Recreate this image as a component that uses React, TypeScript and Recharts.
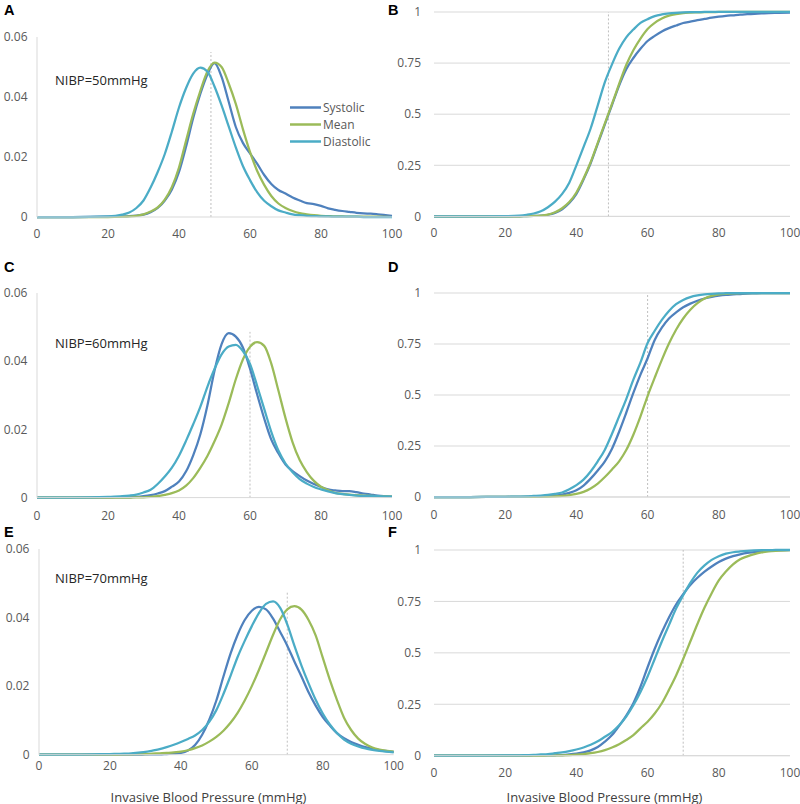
import React from 'react';
import { LineChart, Line, XAxis, YAxis, CartesianGrid, ReferenceLine } from 'recharts';

// invasive blood pressure grid (mmHg)
const bp = [0, 10, 20, 24, 26, 28, 30, 32, 34, 36, 38, 40, 42, 44, 46, 48, 50, 52, 54, 56, 58, 60, 62, 64, 66, 68, 70, 72, 74, 76, 78, 80, 82, 84, 86, 88, 90, 92, 94, 96, 100];

// NIBP = 50 mmHg, density
const sysA = [0, 0, 0.0001, 0.0002, 0.0003, 0.0005, 0.0008, 0.0016, 0.003, 0.0055, 0.0092, 0.015, 0.0235, 0.033, 0.041, 0.0475, 0.0513, 0.0467, 0.0384, 0.03, 0.0247, 0.0212, 0.0178, 0.014, 0.011, 0.009, 0.0078, 0.0065, 0.0055, 0.0046, 0.0043, 0.0037, 0.0029, 0.0024, 0.002, 0.0017, 0.0014, 0.0012, 0.0011, 0.0009, 0.0004];
const meanA = [0, 0, 0, 0.0001, 0.0002, 0.0004, 0.0009, 0.0018, 0.0032, 0.0058, 0.01, 0.0165, 0.0255, 0.0344, 0.042, 0.0485, 0.0515, 0.05, 0.0445, 0.0377, 0.0293, 0.0217, 0.0154, 0.0107, 0.007, 0.0045, 0.003, 0.002, 0.0013, 0.0009, 0.0006, 0.0004, 0.0003, 0.0002, 0.0002, 0.0001, 0.0001, 0.0001, 0.0001, 0.0001, 0];
const diaA = [0, 0, 0.0002, 0.0008, 0.0015, 0.003, 0.0055, 0.0098, 0.015, 0.021, 0.0285, 0.0365, 0.043, 0.0478, 0.0498, 0.0485, 0.0435, 0.0372, 0.0302, 0.0232, 0.017, 0.0123, 0.0083, 0.0054, 0.0036, 0.0022, 0.0015, 0.0009, 0.0006, 0.0004, 0.0003, 0.0002, 0.0002, 0.0001, 0.0001, 0.0001, 0.0001, 0, 0, 0, 0];

// NIBP = 50 mmHg, cumulative
const sysB = [0, 0, 0.0002, 0.0005, 0.001, 0.002, 0.004, 0.008, 0.017, 0.035, 0.065, 0.11, 0.18, 0.26, 0.355, 0.45, 0.545, 0.64, 0.72, 0.775, 0.82, 0.858, 0.883, 0.905, 0.921, 0.934, 0.946, 0.953, 0.96, 0.966, 0.972, 0.977, 0.981, 0.984, 0.987, 0.989, 0.991, 0.993, 0.995, 0.996, 0.997];
const meanB = [0, 0, 0.0002, 0.0005, 0.001, 0.002, 0.004, 0.009, 0.02, 0.04, 0.07, 0.117, 0.185, 0.265, 0.36, 0.455, 0.55, 0.648, 0.741, 0.813, 0.87, 0.917, 0.947, 0.968, 0.982, 0.99, 0.995, 0.997, 0.998, 0.999, 0.999, 1, 1, 1, 1, 1, 1, 1, 1, 1, 1];
const diaB = [0, 0, 0.001, 0.004, 0.008, 0.014, 0.025, 0.045, 0.072, 0.11, 0.165, 0.25, 0.339, 0.43, 0.543, 0.657, 0.744, 0.82, 0.876, 0.914, 0.947, 0.965, 0.98, 0.988, 0.993, 0.996, 0.998, 0.999, 0.999, 1, 1, 1, 1, 1, 1, 1, 1, 1, 1, 1, 1];

// NIBP = 60 mmHg, density
const sysC = [0, 0, 0, 0.0001, 0.0001, 0.0002, 0.0004, 0.0007, 0.0012, 0.0019, 0.0032, 0.0047, 0.0077, 0.0124, 0.0185, 0.027, 0.0372, 0.045, 0.0482, 0.0472, 0.044, 0.0378, 0.0303, 0.0232, 0.017, 0.013, 0.0097, 0.0078, 0.0063, 0.005, 0.004, 0.0031, 0.0024, 0.0021, 0.0019, 0.0019, 0.0016, 0.0012, 0.0009, 0.0006, 0.0003];
const meanC = [0, 0, 0, 0, 0, 0.0001, 0.0001, 0.0002, 0.0004, 0.0008, 0.0013, 0.0021, 0.0035, 0.0057, 0.0087, 0.0122, 0.0165, 0.0214, 0.0277, 0.0347, 0.0405, 0.0442, 0.0456, 0.0445, 0.0393, 0.0314, 0.0233, 0.0162, 0.011, 0.0075, 0.0049, 0.0032, 0.0022, 0.0014, 0.0011, 0.0009, 0.0007, 0.0006, 0.0005, 0.0004, 0.0003];
const diaC = [0, 0, 0.0002, 0.0004, 0.0006, 0.0009, 0.0015, 0.0023, 0.004, 0.0062, 0.0088, 0.0123, 0.0167, 0.0215, 0.0266, 0.0325, 0.0377, 0.042, 0.0443, 0.0448, 0.043, 0.0392, 0.0328, 0.026, 0.0193, 0.0138, 0.01, 0.0074, 0.0054, 0.0041, 0.0031, 0.0024, 0.0018, 0.0013, 0.001, 0.0008, 0.0006, 0.0005, 0.0005, 0.0004, 0.0003];

// NIBP = 60 mmHg, cumulative
const sysD = [0, 0, 0.0002, 0.0005, 0.001, 0.0015, 0.002, 0.004, 0.007, 0.012, 0.02, 0.033, 0.056, 0.09, 0.13, 0.175, 0.237, 0.32, 0.413, 0.51, 0.6, 0.68, 0.77, 0.83, 0.875, 0.905, 0.93, 0.948, 0.962, 0.973, 0.981, 0.987, 0.991, 0.993, 0.995, 0.997, 0.998, 0.999, 0.999, 1, 1];
const meanD = [0, 0, 0.0001, 0.0003, 0.0005, 0.001, 0.0015, 0.002, 0.003, 0.005, 0.009, 0.015, 0.025, 0.042, 0.066, 0.098, 0.135, 0.175, 0.23, 0.305, 0.395, 0.495, 0.585, 0.672, 0.752, 0.82, 0.875, 0.918, 0.95, 0.973, 0.986, 0.993, 0.996, 0.998, 0.999, 1, 1, 1, 1, 1, 1];
const diaD = [0, 0, 0.001, 0.002, 0.003, 0.005, 0.007, 0.01, 0.015, 0.022, 0.038, 0.058, 0.085, 0.125, 0.175, 0.232, 0.31, 0.395, 0.48, 0.575, 0.66, 0.755, 0.815, 0.868, 0.912, 0.945, 0.966, 0.98, 0.988, 0.993, 0.996, 0.998, 0.999, 1, 1, 1, 1, 1, 1, 1, 1];

// NIBP = 70 mmHg, density
const sysE = [0, 0, 0, 0, 0, 0, 0.0001, 0.0001, 0.0001, 0.0002, 0.0003, 0.0005, 0.0012, 0.0028, 0.0058, 0.0102, 0.0158, 0.0228, 0.0295, 0.035, 0.0393, 0.042, 0.0431, 0.0424, 0.0397, 0.0358, 0.0318, 0.0272, 0.0228, 0.0182, 0.0143, 0.011, 0.0085, 0.0063, 0.0048, 0.0037, 0.0029, 0.0022, 0.0017, 0.0013, 0.0008];
const meanE = [0, 0, 0, 0.0001, 0.0001, 0.0002, 0.0002, 0.0003, 0.0004, 0.0005, 0.0007, 0.0009, 0.0013, 0.0019, 0.0027, 0.0038, 0.0052, 0.007, 0.0093, 0.0122, 0.0158, 0.02, 0.0247, 0.0298, 0.035, 0.0395, 0.0424, 0.0433, 0.0423, 0.0393, 0.0348, 0.0283, 0.0218, 0.016, 0.0108, 0.0072, 0.0047, 0.0031, 0.0021, 0.0015, 0.0009];
const diaE = [0, 0, 0.0002, 0.0003, 0.0004, 0.0006, 0.0008, 0.0012, 0.0016, 0.0022, 0.0029, 0.0037, 0.0046, 0.0056, 0.0072, 0.0096, 0.013, 0.0177, 0.023, 0.0285, 0.0332, 0.0375, 0.0413, 0.044, 0.0447, 0.0428, 0.038, 0.0318, 0.026, 0.0208, 0.016, 0.012, 0.0088, 0.0063, 0.0044, 0.0032, 0.0024, 0.0018, 0.0014, 0.0011, 0.0007];

// NIBP = 70 mmHg, cumulative
const sysF = [0, 0, 0.0002, 0.0005, 0.0007, 0.001, 0.0012, 0.0015, 0.002, 0.003, 0.006, 0.01, 0.016, 0.026, 0.042, 0.068, 0.1, 0.145, 0.195, 0.255, 0.335, 0.43, 0.52, 0.6, 0.672, 0.735, 0.785, 0.83, 0.865, 0.895, 0.92, 0.942, 0.958, 0.97, 0.979, 0.986, 0.99, 0.994, 0.996, 0.998, 0.999];
const meanF = [0, 0, 0.0001, 0.0002, 0.0003, 0.0005, 0.0008, 0.001, 0.0015, 0.002, 0.003, 0.005, 0.008, 0.012, 0.018, 0.027, 0.04, 0.056, 0.076, 0.1, 0.133, 0.165, 0.205, 0.255, 0.32, 0.39, 0.47, 0.555, 0.64, 0.72, 0.79, 0.852, 0.895, 0.93, 0.955, 0.969, 0.98, 0.988, 0.993, 0.996, 0.999];
const diaF = [0, 0, 0.001, 0.002, 0.003, 0.004, 0.006, 0.008, 0.012, 0.016, 0.022, 0.03, 0.04, 0.053, 0.07, 0.092, 0.115, 0.148, 0.19, 0.245, 0.31, 0.385, 0.47, 0.555, 0.635, 0.715, 0.78, 0.84, 0.89, 0.925, 0.952, 0.97, 0.982, 0.989, 0.993, 0.996, 0.998, 0.999, 0.999, 1, 1];

const xTicks = [0, 20, 40, 60, 80, 100];
const pdfTicks = [0, 0.02, 0.04, 0.06];
const cdfTicks = [0, 0.25, 0.5, 0.75, 1];
const nibpLabels = ['NIBP=50mmHg', 'NIBP=60mmHg', 'NIBP=70mmHg'];
const seriesNames = ['Systolic', 'Mean', 'Diastolic'];

const COLORS = ['#4F81BD', '#9BBB59', '#4BACC6'];
const AXIS = '#d9d9d9';
const TICK = { fill: '#595959', fontSize: 12 };

const rows = (sys: number[], mean: number[], dia: number[]) =>
  bp.map((x, i) => ({ x, sys: sys[i], mean: mean[i], dia: dia[i] }));

type PanelProps = {
  data: any[];
  x0: number;
  x1: number;
  y0: number;
  y1: number;
  cdf?: boolean;
  refX: number;
  refTop?: number;
  xTickMargin: number;
};

function Panel({ data, x0, x1, y0, y1, cdf, refX, refTop, xTickMargin }: PanelProps) {
  const yw = 40;
  const mt = 10;
  const mr = 20;
  const xh = 30;
  return (
    <div style={{ position: 'absolute', left: x0 - yw, top: y0 - mt }}>
      <LineChart
        width={x1 - x0 + yw + mr}
        height={y1 - y0 + mt + xh}
        data={data}
        margin={{ top: mt, right: mr, bottom: 0, left: 0 }}
      >
        {cdf && <CartesianGrid vertical={false} stroke={AXIS} />}
        <XAxis
          type="number"
          dataKey="x"
          domain={[0, 100]}
          ticks={xTicks}
          tickLine={false}
          axisLine={{ stroke: AXIS }}
          height={xh}
          tick={TICK}
          tickMargin={xTickMargin}
        />
        <YAxis
          type="number"
          domain={cdf ? [0, 1] : [0, 0.06]}
          ticks={cdf ? cdfTicks : pdfTicks}
          width={yw}
          tickLine={false}
          axisLine={cdf ? false : { stroke: AXIS }}
          tick={TICK}
          tickMargin={cdf ? 7 : 3.5}
          tickFormatter={(v: number) => (cdf || v === 0 ? String(v) : v.toFixed(2))}
        />
        {cdf ? (
          <ReferenceLine x={refX} stroke="#bfbfbf" strokeDasharray="2 2" />
        ) : (
          <ReferenceLine
            segment={[{ x: refX, y: 0 }, { x: refX, y: refTop }]}
            stroke="#bfbfbf"
            strokeDasharray="2 2"
          />
        )}
        <Line type="monotone" dataKey="sys" stroke={COLORS[0]} strokeWidth={2.25} dot={false} isAnimationActive={false} />
        <Line type="monotone" dataKey="mean" stroke={COLORS[1]} strokeWidth={2.25} dot={false} isAnimationActive={false} />
        <Line type="monotone" dataKey="dia" stroke={COLORS[2]} strokeWidth={2.25} dot={false} isAnimationActive={false} />
      </LineChart>
    </div>
  );
}

export default function App() {
  const letter = { fontFamily: "'Liberation Sans', Arial, sans-serif", fontWeight: 700, fontSize: 14.5, fill: '#000' };
  const note = { fontSize: 13, fill: '#262626' };
  const title = { fontSize: 13, fill: '#404040' };
  const legendY = [107.5, 124.5, 141.5];
  return (
    <div
      style={{
        position: 'absolute',
        left: 0,
        top: 0,
        width: 800,
        height: 804,
        background: '#fff',
        fontFamily: "'Open Sans', sans-serif",
        overflow: 'hidden',
      }}
    >
      <Panel data={rows(sysA, meanA, diaA)} x0={37} x1={392} y0={36.7} y1={216.7} refX={49} refTop={0.055} xTickMargin={6} />
      <Panel data={rows(sysB, meanB, diaB)} x0={434} x1={790} y0={12.3} y1={216.7} cdf refX={49} xTickMargin={6} />
      <Panel data={rows(sysC, meanC, diaC)} x0={37} x1={392} y0={292.7} y1={497.3} refX={60} refTop={0.0486} xTickMargin={8} />
      <Panel data={rows(sysD, meanD, diaD)} x0={434} x1={790} y0={293.3} y1={497.3} cdf refX={60} xTickMargin={7} />
      <Panel data={rows(sysE, meanE, diaE)} x0={39} x1={393.7} y0={549.3} y1={755} refX={70} refTop={0.0478} xTickMargin={1} />
      <Panel data={rows(sysF, meanF, diaF)} x0={434} x1={790} y0={550} y1={755.7} cdf refX={70} xTickMargin={7} />

      <svg width={800} height={804} style={{ position: 'absolute', left: 0, top: 0, pointerEvents: 'none' }}>
        <text x={4} y={15} style={letter}>A</text>
        <text x={388} y={15} style={letter}>B</text>
        <text x={4} y={271.7} style={letter}>C</text>
        <text x={388} y={271.7} style={letter}>D</text>
        <text x={4} y={536.7} style={letter}>E</text>
        <text x={388} y={536.7} style={letter}>F</text>

        <text x={55} y={85} style={note}>{nibpLabels[0]}</text>
        <text x={55} y={347.5} style={note}>{nibpLabels[1]}</text>
        <text x={55} y={583} style={note}>{nibpLabels[2]}</text>

        {seriesNames.map((name, i) => (
          <g key={name}>
            <line x1={290} x2={321} y1={legendY[i]} y2={legendY[i]} stroke={COLORS[i]} strokeWidth={2.5} />
            <text x={323} y={legendY[i] + 4.3} style={{ fontSize: 12, fill: '#595959' }}>{name}</text>
          </g>
        ))}

        <text x={208.5} y={801.5} textAnchor="middle" style={title}>Invasive Blood Pressure (mmHg)</text>
        <text x={604.5} y={801.5} textAnchor="middle" style={title}>Invasive Blood Pressure (mmHg)</text>
      </svg>
    </div>
  );
}
